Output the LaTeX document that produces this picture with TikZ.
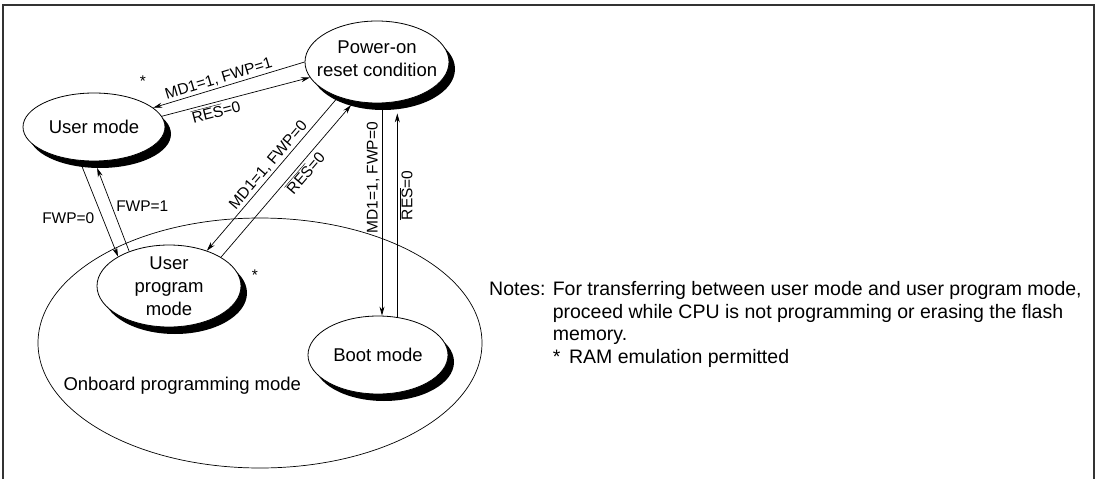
\documentclass[tikz,border=0pt]{standalone}
\usepackage{fontspec}
\setmainfont{Liberation Sans}
\usetikzlibrary{arrows.meta,shadows,shapes.geometric}

\begin{document}
\begin{tikzpicture}[x=1pt,y=-1pt,
  every node/.append style={font=\fontsize{18.5}{23}\selectfont},
  state/.style={draw,ellipse,fill=white,line width=0.8pt,inner sep=0pt,
    drop shadow={shadow xshift=6pt,shadow yshift=-7pt,fill=black,opacity=1}},
  arr/.style={-{Stealth[length=9pt,width=5pt]},line width=0.7pt},
  lbl/.style={font=\fontsize{15.5}{17}\selectfont,inner sep=2pt}]
\useasboundingbox (0,0) rectangle (1096,479);
\draw[line width=1.2pt,black!80] (3,480) -- (3,5) -- (1094,5) -- (1094,480);

\node[draw,ellipse,line width=0.7pt,minimum width=444pt,minimum height=250pt] (opm) at (260,343) {};
\node[anchor=west] (opmtext) at (60,386) {Onboard programming mode};

\node[state,minimum width=142pt,minimum height=68pt,label=center:User mode] (um) at (94,127) {};
\node[state,minimum width=144pt,minimum height=82pt,label={[align=center,yshift=3pt]center:Power-on\\reset condition}] (pon) at (377,62) {};
\node[state,minimum width=144pt,minimum height=82pt,label={[align=center]center:User\\program\\mode}] (up) at (169,286) {};
\node[state,minimum width=140pt,minimum height=78pt,label=center:Boot mode] (bm) at (378,355) {};

\node[lbl] (ast1) at (143,81) {*};
\node[lbl] (ast2) at (255,275) {*};

\draw[arr] (pon.180) -- node[lbl,pos=0.55,above,sloped] (l1) {MD1=1, FWP=1} (um.18);
\draw[arr] (um.9) -- node[lbl,pos=0.35,below,sloped] (l2) {$\overline{\hbox{RES}}$=0} (pon.193);
\draw[arr] (pon.222) -- node[lbl,pos=0.48,above,sloped] (l3) {MD1=1, FWP=0} (up.43);
\draw[arr,shorten >=5pt] (up.29) -- node[lbl,pos=0.58,below,sloped] (l4) {$\overline{\hbox{RES}}$=0} (pon.240);
\draw[arr] ([xshift=5pt]pon.south) -- node[lbl,pos=0.35,anchor=south,rotate=90] (l5) {MD1=1, FWP=0} ([xshift=5pt]pon.south |- bm.north);
\draw[arr,shorten >=10pt] (bm.63) -- node[lbl,pos=0.57,anchor=north,rotate=90] (l6) {$\overline{\hbox{RES}}$=0} (bm.63 |- pon.south);
\draw[arr] (um.-113) -- node[lbl,pos=0.6,left=6pt] (l7) {FWP=0} (up.150);
\draw[arr,shorten >=7pt] (up.139) -- node[lbl,pos=0.5,right=2pt] (l8) {FWP=1} (um.-89);

\node[anchor=north west,inner sep=0pt,font=\fontsize{19.5}{22.5}\selectfont] (notes) at (489,280) {%
\begin{tabular}{@{}l@{ }l@{}}
Notes: & For transferring between user mode and user program mode,\\
 & proceed while CPU is not programming or erasing the flash\\
 & memory.\\
 & *\hspace{0.45em}RAM emulation permitted
\end{tabular}};
\end{tikzpicture}
\end{document}
